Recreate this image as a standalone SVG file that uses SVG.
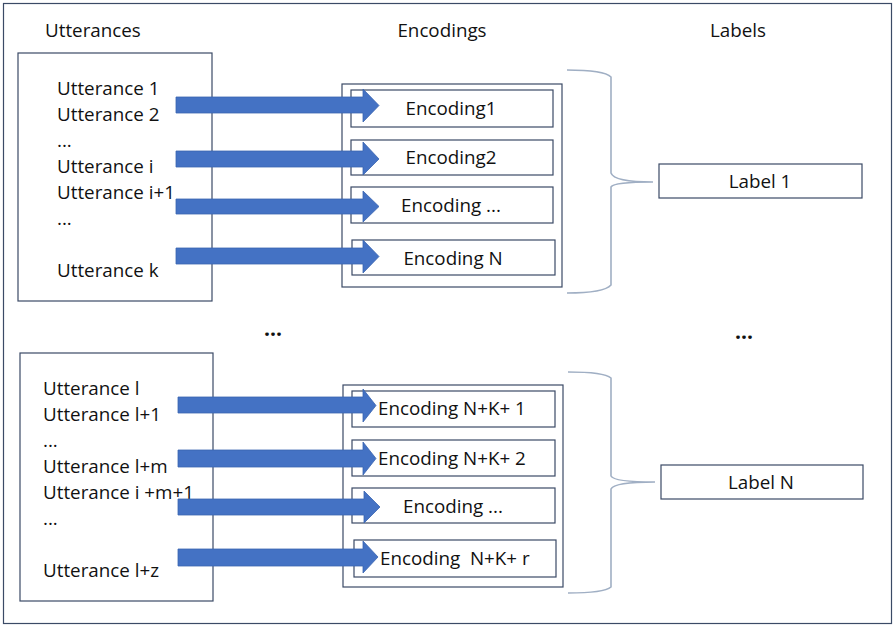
<svg xmlns="http://www.w3.org/2000/svg" width="895" height="628" viewBox="0 0 895 628">
<style>
.box{fill:#fff;stroke:#3b4a66;stroke-width:1.2}
.t{font-family:"Open Sans","Noto Sans","Liberation Sans",sans-serif;font-size:18.8px;fill:#111}
.c{text-anchor:middle}
.arrow{fill:#4472c4;stroke:#3a64b0;stroke-width:0.8}
.brace{fill:none;stroke:#a0afc4;stroke-width:1.6}
.dots{font-family:"Open Sans","Liberation Sans",sans-serif;font-size:21px;font-weight:bold;fill:#111;text-anchor:middle}
</style>
<rect x="0" y="0" width="895" height="628" fill="#fff"/>
<rect x="3.5" y="3.5" width="888" height="620" fill="none" stroke="#3b4a66" stroke-width="1.2"/>

<g id="headers">
<text class="t" x="45" y="37">Utterances</text>
<text class="t c" x="442" y="37">Encodings</text>
<text class="t c" x="738" y="37">Labels</text>
</g>
<text class="dots" x="273" y="336">...</text>
<text class="dots" x="744" y="339">...</text>

<g id="utterances1">
<rect class="box" x="18" y="53" width="194" height="248"/>
<text class="t" x="57" y="95">Utterance 1</text>
<text class="t" x="57" y="121">Utterance 2</text>
<text class="t" x="57" y="147">...</text>
<text class="t" x="57" y="173">Utterance i</text>
<text class="t" x="57" y="199">Utterance i+1</text>
<text class="t" x="57" y="225">...</text>
<text class="t" x="57" y="277">Utterance k</text>
</g>

<g id="encodings1">
<rect class="box" x="342" y="84" width="220" height="203"/>
<g id="enc1"><rect class="box" x="351" y="90" width="202" height="37"/><text class="t c" x="451" y="115">Encoding1</text></g>
<g id="enc2"><rect class="box" x="351" y="140" width="202" height="35"/><text class="t c" x="451" y="164">Encoding2</text></g>
<g id="enc3"><rect class="box" x="351" y="187" width="202" height="36"/><text class="t c" x="451" y="212">Encoding ...</text></g>
<g id="enc4"><rect class="box" x="352" y="240" width="203" height="35"/><text class="t c" x="453" y="265">Encoding N</text></g>
</g>

<g id="label1">
<rect class="box" x="659" y="164" width="203" height="34"/>
<text class="t c" x="760" y="188">Label 1</text>
</g>

<g id="utterances2">
<rect class="box" x="20" y="353" width="193" height="248"/>
<text class="t" x="43" y="395">Utterance l</text>
<text class="t" x="43" y="421">Utterance l+1</text>
<text class="t" x="43" y="447">...</text>
<text class="t" x="43" y="473">Utterance l+m</text>
<text class="t" x="43" y="499">Utterance i +m+1</text>
<text class="t" x="43" y="525">...</text>
<text class="t" x="43" y="577">Utterance l+z</text>
</g>

<g id="encodings2">
<rect class="box" x="343" y="385" width="220" height="202"/>
<g id="enc5"><rect class="box" x="352" y="391" width="203" height="36"/><text class="t" x="378" y="415">Encoding N+K+ 1</text></g>
<g id="enc6"><rect class="box" x="352" y="440" width="203" height="36"/><text class="t" x="378" y="465">Encoding N+K+ 2</text></g>
<g id="enc7"><rect class="box" x="352" y="488" width="203" height="35"/><text class="t c" x="453" y="513">Encoding ...</text></g>
<g id="enc8"><rect class="box" x="354" y="540" width="202" height="37"/><text class="t" x="380" y="565" xml:space="preserve">Encoding  N+K+ r</text></g>
</g>

<g id="labelN">
<rect class="box" x="661" y="465" width="202" height="34"/>
<text class="t c" x="761" y="489">Label N</text>
</g>

<g id="connectors">
<path class="arrow" d="M176 97H363V89L379 105.5L363 122V113H176Z"/>
<path class="arrow" d="M176 151H363V142L379 159L363 175V167H176Z"/>
<path class="arrow" d="M176 199H363V191L379 206.5L363 222V214H176Z"/>
<path class="arrow" d="M176 248H363V240L379 256.5L363 273V264H176Z"/>

<path class="arrow" d="M178 397H363V389L376 405.5L363 422V413H178Z"/>
<path class="arrow" d="M178 450H363V442L376 458.5L363 475V467H178Z"/>
<path class="arrow" d="M178 499H364V491L380 507L364 523V515H178Z"/>
<path class="arrow" d="M178 549H363V541L378 557L363 573V566H178Z"/>

<path class="brace" d="M567 70Q604 70 611 77V173Q614 182 653 182M653 182Q614 182 611 187V285Q604 293 567 293"/>
<path class="brace" d="M568 372Q604 372 611 378V476Q614 482 655 482M655 482Q614 482 611 489V587Q604 593 568 593"/>
</g>
</svg>
